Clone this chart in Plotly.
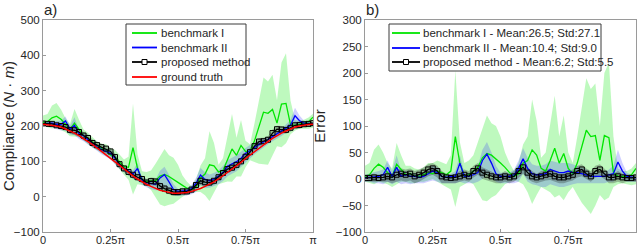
import numpy as np
import plotly.graph_objects as go

# x grid (fractions of pi)
x_frac = [i / 60 for i in range(61)]
xticks_frac = [0, 0.25, 0.5, 0.75, 1.0]
xtick_text = ["0", "0.25π", "0.5π", "0.75π", "π"]

# ---------- panel a: compliance ----------
truth = [205,204,203,200,197,192,186,180,173,165,156,147,138,128,118,108,97,87,77,68,59,50,42,35,29,23,18,15,12,10,10,
         10,12,15,18,23,29,35,42,50,59,68,77,87,97,108,118,128,138,147,156,165,173,180,186,192,197,200,203,204,205]
bench1_a = [210,212,223,228,219,204,191,208,191,173,166,153,143,136,130,118,112,99,85,83,139,80,47,43,44,45,58,63,57,48,40,
            32,24,20,28,53,64,90,87,70,74,103,135,117,145,128,128,158,198,239,236,247,208,262,264,204,202,205,208,212,225]
bench1_a_up = [230,234,258,265,247,222,206,248,218,190,181,167,156,150,148,138,132,119,105,113,264,120,72,70,74,93,113,135,117,110,90,
               60,42,30,48,88,109,185,152,90,109,168,234,167,217,158,148,208,273,337,326,345,273,380,406,272,217,215,218,224,235]
bench1_a_lo = [200,196,193,195,189,182,171,170,168,160,148,139,133,123,115,108,92,77,62,48,6,35,32,30,19,-2,-22,-27,-23,-20,-10,
               0,7,12,13,13,4,-12,12,35,39,43,42,57,57,83,103,98,93,92,90,115,143,140,151,177,187,192,193,192,195]
bench2_a = [207,207,208,205,205,214,191,202,178,173,161,152,141,133,128,123,109,92,80,73,64,80,47,40,37,35,53,62,42,20,15,
            15,17,23,38,61,49,45,50,58,69,86,92,99,109,123,130,140,148,155,161,170,178,185,194,202,229,215,208,207,207]
bench2_a_up = [213,214,215,215,215,227,201,225,188,180,168,157,148,140,136,133,119,99,85,78,74,95,54,47,47,48,73,85,62,35,22,
               22,24,33,53,81,69,63,67,75,87,103,109,117,127,138,146,153,160,165,168,177,185,192,204,217,252,230,215,212,211]
bench2_a_lo = [200,199,195,192,187,187,176,175,163,157,146,139,130,120,113,105,92,79,69,60,51,45,34,27,21,18,18,25,17,5,2,
               2,4,7,13,33,24,25,30,35,44,58,65,72,82,96,108,120,130,139,148,157,165,172,181,187,207,200,198,199,200]
prop_a = [207,206,206,202,200,197,189,188,183,173,166,152,146,140,136,128,112,92,80,70,62,55,50,40,44,43,30,23,17,13,13,
          15,15,20,33,45,41,40,45,55,67,78,82,90,100,113,126,143,156,157,161,180,191,190,189,195,202,203,205,206,208]
prop_a_up = [213,212,213,208,207,207,196,198,193,183,176,162,156,150,146,138,122,102,87,76,69,65,60,50,54,53,40,33,27,20,20,
             25,22,30,43,55,51,50,52,65,77,88,92,97,107,123,136,153,166,167,171,190,201,200,196,202,212,210,211,212,213]
prop_a_lo = [200,199,198,195,192,187,178,175,170,160,153,139,133,128,123,116,100,79,69,60,51,45,39,30,32,31,18,12,7,2,2,
             5,4,10,21,33,29,30,34,45,56,66,72,79,89,103,115,131,143,147,151,168,178,180,178,184,192,192,198,199,200]
legend_a = ["benchmark I", "benchmark II", "proposed method", "ground truth"]

# ---------- panel b: error ----------
err1 = [5,8,20,28,22,12,5,28,18,8,10,6,5,8,12,10,15,12,8,15,80,30,5,8,15,22,40,48,45,38,30,
        22,12,5,10,30,35,55,45,20,15,35,58,30,48,20,10,30,60,92,80,82,35,82,78,12,5,5,5,8,20]
err1_up = [25,30,55,65,50,30,20,68,45,25,25,20,18,22,30,30,35,32,28,45,205,70,30,35,45,70,95,120,105,100,80,
           50,30,15,30,65,80,150,110,40,50,100,157,80,120,50,30,80,135,190,170,180,100,200,220,80,20,15,15,20,30]
err1_lo = [-5,-8,-10,-5,-8,-10,-15,-10,-5,-5,-8,-8,-5,-5,-3,0,-5,-10,-15,-20,-53,-15,-10,-5,-10,-25,-40,-42,-35,-30,-20,
           -10,-5,-3,-5,-10,-25,-47,-30,-15,-20,-25,-35,-30,-40,-25,-15,-30,-45,-55,-66,-50,-30,-40,-35,-15,-10,-8,-10,-12,-10]
err2 = [2,3,5,5,8,22,5,22,5,8,5,5,3,5,10,15,12,5,3,5,5,30,5,5,8,12,35,47,30,10,5,
        5,5,8,20,38,20,10,8,8,10,18,15,12,12,15,12,12,10,8,5,5,5,5,8,10,32,15,5,3,2]
err2_up = [8,10,12,15,18,35,15,45,15,15,12,10,10,12,18,25,22,12,8,10,15,45,12,12,18,25,55,70,50,25,12,
           12,12,18,35,58,40,28,25,25,28,35,32,30,30,30,28,25,22,18,12,12,12,12,18,25,55,30,12,8,6]
err2_lo = [-5,-5,-8,-8,-10,-5,-10,-5,-10,-8,-10,-8,-8,-8,-5,-3,-5,-8,-8,-8,-8,-5,-8,-8,-8,-5,0,10,5,-5,-8,
           -8,-8,-8,-5,10,-5,-10,-12,-15,-15,-10,-12,-15,-15,-12,-10,-8,-8,-8,-8,-8,-8,-8,-5,-5,10,0,-5,-5,-5]
errp = [2,2,3,2,3,5,3,8,10,8,10,5,8,12,18,20,15,5,3,2,3,5,8,5,15,20,12,8,5,3,3,
        5,3,5,15,22,12,5,3,5,8,10,5,3,3,5,8,15,18,10,5,15,18,10,3,3,5,3,2,2,3]
errp_up = [8,8,10,8,10,15,10,18,20,18,20,15,18,22,28,30,25,15,10,8,10,15,18,15,25,30,22,18,15,10,10,
           15,10,15,25,32,22,15,10,15,18,20,15,10,10,15,18,25,28,20,15,25,28,20,10,10,15,10,8,8,8]
errp_lo = [-5,-5,-5,-5,-5,-5,-8,-5,-3,-5,-3,-8,-5,0,5,8,3,-8,-8,-8,-8,-5,-3,-5,3,8,0,-3,-5,-8,-8,
           -5,-8,-5,3,10,0,-5,-8,-5,-3,-2,-5,-8,-8,-5,-3,3,5,0,-5,3,5,0,-8,-8,-5,-8,-5,-5,-5]
legend_b = ["benchmark I - Mean:26.5; Std:27.1",
            "benchmark II - Mean:10.4; Std:9.0",
            "proposed method - Mean:6.2; Std:5.5"]

x = np.array(x_frac) * np.pi
xr = x[::-1]

GREEN = "#00e600"
BLUE = "#0000ff"
RED = "#ff0000"
GREEN_BAND = "rgba(40,235,40,0.30)"
BLUE_BAND = "rgba(40,40,255,0.22)"
GRAY_BAND = "rgba(20,20,20,0.28)"
FONT = "Liberation Sans, Arial, sans-serif"
TXT = "#262626"

W, H = 640, 247
ML, MR, MT, MB = 0, 0, 20, 15
PH = H - MT - MB


def px(xp):
    return xp / W


def py(yp):
    return (H - MB - yp) / PH


fig = go.Figure()


def band(up, lo, color, xa, ya):
    fig.add_trace(go.Scatter(x=np.concatenate([x, xr]), y=list(up) + list(lo)[::-1],
                             fill="toself", fillcolor=color, line=dict(width=0),
                             mode="lines", showlegend=False, hoverinfo="skip",
                             xaxis=xa, yaxis=ya))


def line(yv, color, xa, ya, markers=False, width=1.3):
    fig.add_trace(go.Scatter(
        x=x, y=yv, mode="lines+markers" if markers else "lines",
        line=dict(color=color, width=width),
        marker=dict(symbol="square-open", size=5, color="black", line=dict(width=1)),
        showlegend=False, xaxis=xa, yaxis=ya))


# panel a
band(bench1_a_up, bench1_a_lo, GREEN_BAND, "x", "y")
band(bench2_a_up, bench2_a_lo, BLUE_BAND, "x", "y")
band(prop_a_up, prop_a_lo, GRAY_BAND, "x", "y")
line(bench1_a, GREEN, "x", "y")
line(bench2_a, BLUE, "x", "y")
line(prop_a, "black", "x", "y", markers=True)
line(truth, RED, "x", "y", width=1.5)

# panel b
band(err1_up, err1_lo, GREEN_BAND, "x2", "y2")
band(err2_up, err2_lo, BLUE_BAND, "x2", "y2")
band(errp_up, errp_lo, GRAY_BAND, "x2", "y2")
line(err1, GREEN, "x2", "y2")
line(err2, BLUE, "x2", "y2")
line(errp, "black", "x2", "y2", markers=True)

# manual legends (box, samples, text)
shapes = []
annotations = []


def legend_box(x0, x1, y0, y1, labels, colors, marker_idx, lx0, lx1, tx, rows):
    shapes.append(dict(type="rect", xref="paper", yref="paper",
                       x0=px(x0), x1=px(x1), y0=py(y1), y1=py(y0),
                       line=dict(color="#3a3a3a", width=1), fillcolor="white", layer="above"))
    for lab, col, ry, i in zip(labels, colors, rows, range(len(labels))):
        shapes.append(dict(type="line", xref="paper", yref="paper",
                           x0=px(lx0), x1=px(lx1), y0=py(ry), y1=py(ry),
                           line=dict(color=col, width=1.8), layer="above"))
        if i == marker_idx:
            mx = (lx0 + lx1) / 2
            shapes.append(dict(type="rect", xref="paper", yref="paper",
                               x0=px(mx - 2.5), x1=px(mx + 2.5), y0=py(ry + 2.5), y1=py(ry - 2.5),
                               line=dict(color="black", width=1), fillcolor="white", layer="above"))
        annotations.append(dict(text=lab, x=px(tx), y=py(ry), xref="paper", yref="paper",
                                xanchor="left", yanchor="middle", showarrow=False,
                                font=dict(family=FONT, size=11.5, color=TXT)))


legend_box(126, 246, 24, 85, legend_a, [GREEN, BLUE, "black", RED], 2, 132, 157, 159,
           [33, 47.5, 62, 77])
legend_box(389, 601, 24, 71, legend_b, [GREEN, BLUE, "black"], 2, 392, 420, 421,
           [33, 48, 62])

annotations.append(dict(text="a)", x=px(42), y=py(10), xref="paper", yref="paper",
                        xanchor="left", yanchor="middle", showarrow=False,
                        font=dict(family=FONT, size=15, color=TXT)))
annotations.append(dict(text="b)", x=px(364), y=py(10), xref="paper", yref="paper",
                        xanchor="left", yanchor="middle", showarrow=False,
                        font=dict(family=FONT, size=15, color=TXT)))

tickvals = [v * np.pi for v in xticks_frac]
axis_common = dict(showline=True, mirror=True, linecolor="#9a9a9a", linewidth=1,
                   ticks="inside", ticklen=3, tickcolor="#9a9a9a", showgrid=False, zeroline=False,
                   automargin=False, tickfont=dict(family=FONT, size=11.5, color=TXT))
xaxis_common = dict(axis_common)
xaxis_common["tickfont"] = dict(family=FONT, size=11, color=TXT)

fig.update_layout(
    width=W, height=H, margin=dict(l=ML, r=MR, t=MT, b=MB, autoexpand=False),
    paper_bgcolor="white", plot_bgcolor="white", showlegend=False,
    font=dict(family=FONT, size=11, color=TXT),
    xaxis=dict(domain=[px(43), px(313)], range=[0, np.pi], tickvals=tickvals, ticktext=xtick_text,
               anchor="y", ticklabelstandoff=-2, **xaxis_common),
    yaxis=dict(domain=[0, 1], range=[-100, 500], tickvals=[-100, 0, 100, 200, 300, 400, 500],
               anchor="x", title=dict(text="Compliance (<i>N</i> · <i>m</i>)", standoff=6,
                                     font=dict(family=FONT, size=15, color=TXT)),
               **axis_common),
    xaxis2=dict(domain=[px(365), px(636)], range=[0, np.pi], tickvals=tickvals, ticktext=xtick_text,
                anchor="y2", ticklabelstandoff=-2, **xaxis_common),
    yaxis2=dict(domain=[0, 1], range=[-100, 300], tickvals=[-100, -50, 0, 50, 100, 150, 200, 250, 300],
                anchor="x2", title=dict(text="Error", standoff=6,
                                       font=dict(family=FONT, size=15, color=TXT)),
                **axis_common),
    shapes=shapes,
    annotations=annotations,
)

fig.write_html("out.html", config={"displayModeBar": False},
               post_script="document.body.style.margin='0';")
